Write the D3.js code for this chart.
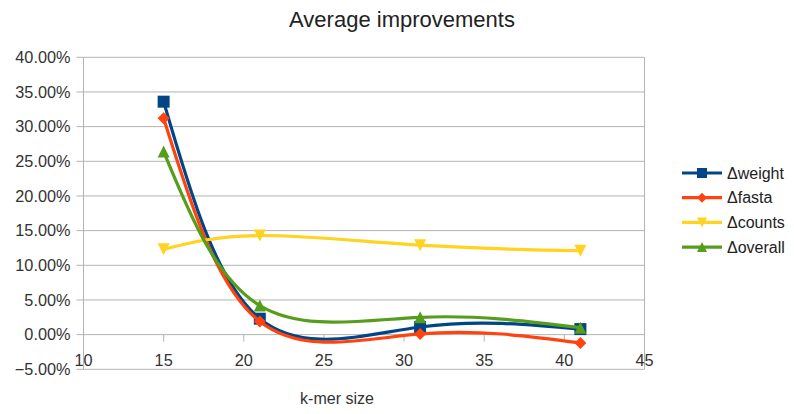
<!DOCTYPE html>
<html>
<head>
<meta charset="utf-8">
<script src="https://cdn.jsdelivr.net/npm/d3@7"></script>
<style>
  html, body { margin: 0; padding: 0; background: #fff; }
  svg { display: block; font-family: "Liberation Sans", Arial, sans-serif; }
</style>
</head>
<body>
<svg id="chart" width="794" height="414"></svg>
<script>
// k-mer sizes on the x axis
const kmerSizes = [15, 21, 31, 41];

// Improvement per series, in percent
const deltaWeight  = [33.6, 2.3, 1.1, 0.8];
const deltaFasta   = [31.2, 1.9, 0.1, -1.2];
const deltaCounts  = [12.3, 14.3, 12.9, 12.1];
const deltaOverall = [26.4, 4.2, 2.5, 1.0];

const seriesNames = ["\u0394weight", "\u0394fasta", "\u0394counts", "\u0394overall"];
const seriesValues = [deltaWeight, deltaFasta, deltaCounts, deltaOverall];
const seriesColors = ["#004586", "#ff420e", "#ffd320", "#579d1c"];
const seriesMarkers = ["square", "diamond", "triangleDown", "triangleUp"];

const xTicks = [10, 15, 20, 25, 30, 35, 40, 45];
const yTicks = [-5, 0, 5, 10, 15, 20, 25, 30, 35, 40];

const svg = d3.select("#chart");

const x = d3.scaleLinear().domain([10, 45]).range([83.5, 644.5]);
const y = d3.scaleLinear().domain([-5, 40]).range([369.3, 57.3]);

const grid = "#b3b3b3";

// horizontal grid lines with short ticks to the left
svg.append("g").selectAll("line").data(yTicks).join("line")
  .attr("x1", x(10) - 7).attr("x2", x(45))
  .attr("y1", d => y(d)).attr("y2", d => y(d))
  .attr("stroke", grid).attr("stroke-width", 1);

// frame: left axis and right border
svg.append("line").attr("x1", x(10)).attr("x2", x(10))
  .attr("y1", y(40)).attr("y2", y(-5)).attr("stroke", grid);
svg.append("line").attr("x1", x(45)).attr("x2", x(45))
  .attr("y1", y(40)).attr("y2", y(-5)).attr("stroke", grid);

// y tick labels
svg.append("g").selectAll("text").data(yTicks).join("text")
  .attr("x", 70.5).attr("y", d => y(d))
  .attr("dy", "0.35em")
  .attr("text-anchor", "end")
  .attr("font-size", 16.3).attr("fill", "#333")
  .text(d => d3.format(".2f")(d) + "%");

// x ticks crossing at zero
svg.append("g").selectAll("line").data(xTicks).join("line")
  .attr("x1", d => x(d)).attr("x2", d => x(d))
  .attr("y1", y(0)).attr("y2", y(0) + 7)
  .attr("stroke", grid);

svg.append("g").selectAll("text").data(xTicks).join("text")
  .attr("x", d => x(d)).attr("y", 366)
  .attr("text-anchor", "middle")
  .attr("font-size", 16.3).attr("fill", "#333")
  .text(d => d);

// title and axis label
svg.append("text").attr("x", 402).attr("y", 27)
  .attr("text-anchor", "middle").attr("font-size", 22).attr("fill", "#222")
  .text("Average improvements");

svg.append("text").attr("x", 337).attr("y", 404)
  .attr("text-anchor", "middle").attr("font-size", 16).attr("fill", "#333")
  .text("k-mer size");

function markerPath(type, size) {
  const s = size / 2;
  switch (type) {
    case "square": return `M${-s},${-s}H${s}V${s}H${-s}Z`;
    case "diamond": return `M0,${-s}L${s},0L0,${s}L${-s},0Z`;
    case "triangleDown": return `M${-s},${-s}H${s}L0,${s}Z`;
    case "triangleUp": return `M${-s},${s}H${s}L0,${-s}Z`;
  }
}

const line = d3.line().curve(d3.curveNatural)
  .x((d, i) => x(kmerSizes[i])).y(d => y(d));

const plot = svg.append("g");
seriesValues.forEach((vals, si) => {
  const g = plot.append("g");
  g.append("path").attr("d", line(vals))
    .attr("fill", "none").attr("stroke", seriesColors[si])
    .attr("stroke-width", 3.2).attr("stroke-linejoin", "round");
  g.selectAll("path.m").data(vals).join("path").attr("class", "m")
    .attr("transform", (d, i) => `translate(${x(kmerSizes[i])},${y(d)})`)
    .attr("d", markerPath(seriesMarkers[si], 12))
    .attr("fill", seriesColors[si]);
});

// legend
const legend = svg.append("g");
seriesNames.forEach((name, i) => {
  const ly = 173 + i * 24.7;
  legend.append("line").attr("x1", 682).attr("x2", 722)
    .attr("y1", ly).attr("y2", ly)
    .attr("stroke", seriesColors[i]).attr("stroke-width", 3.2);
  legend.append("path").attr("transform", `translate(702,${ly})`)
    .attr("d", markerPath(seriesMarkers[i], 10)).attr("fill", seriesColors[i]);
  legend.append("text").attr("x", 727).attr("y", ly).attr("dy", "0.35em")
    .attr("font-size", 16).attr("fill", "#222").text(name);
});
</script>
</body>
</html>
